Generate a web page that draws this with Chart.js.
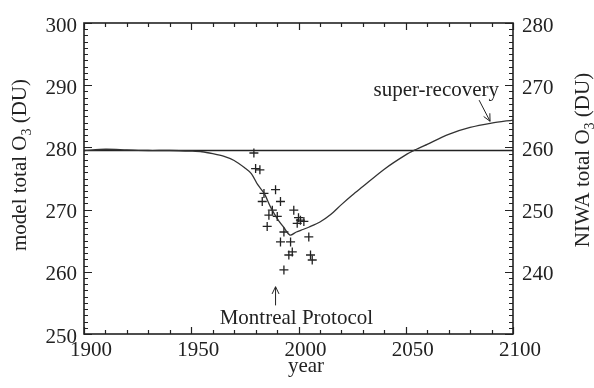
<!DOCTYPE html>
<html>
<head>
<meta charset="utf-8">
<script src="https://cdn.jsdelivr.net/npm/chart.js@4"></script>
<style>
    html, body { margin: 0; padding: 0; background: #fff; }
    #wrap { width: 594px; height: 388px; }
</style>
</head>
<body>
<div id="wrap"><canvas id="ozone-chart"></canvas></div>
<script>
// model total ozone curve (left axis)
const modelYears = [1900, 1910, 1920, 1930, 1940, 1950, 1955, 1960, 1965, 1970, 1975, 1978, 1981, 1984, 1987, 1990, 1993, 1996, 1999, 2002, 2005, 2010, 2015, 2020, 2025, 2030, 2040, 2050, 2055, 2060, 2070, 2080, 2090, 2100];
const modelO3 = [279.5, 279.7, 279.6, 279.5, 279.5, 279.4, 279.3, 279.0, 278.6, 277.9, 276.7, 275.8, 274.0, 272.6, 270.4, 268.6, 267.2, 265.9, 266.4, 266.8, 267.2, 268.0, 269.2, 270.8, 272.3, 273.7, 276.5, 278.8, 279.7, 280.5, 282.1, 283.2, 283.9, 284.4];

// pre-depletion reference level
const refYears = [1900, 2100];
const refO3 = [279.5, 279.5];

// NIWA observations (right axis)
const niwaYears = [1979.2, 1980.0, 1982.0, 1983.1, 1983.9, 1985.4, 1986.2, 1987.8, 1989.3, 1990.1, 1991.6, 1991.6, 1993.2, 1993.2, 1995.5, 1996.3, 1997.1, 1997.8, 1999.4, 2000.0, 2000.9, 2002.5, 2004.8, 2005.6, 2006.4];
const niwaO3 = [259.1, 256.6, 256.4, 251.3, 252.6, 247.3, 249.1, 249.9, 253.2, 248.9, 251.3, 244.8, 246.4, 240.3, 242.7, 244.8, 243.2, 249.9, 247.8, 248.7, 248.3, 248.1, 245.6, 242.7, 241.9];

// axis ticks
const xTicks = [1900, 1950, 2000, 2050, 2100];
const leftTicks = [250, 260, 270, 280, 290, 300];
const rightTicks = [240, 250, 260, 270, 280];

const INK = '#222';
const FONT = '"Liberation Serif", "Times New Roman", serif';

function toPoints(xs, ys) {
    return xs.map((x, i) => ({ x: x, y: ys[i] }));
}

// draw "text" with a subscript part, centered at (cx, cy), optionally rotated
function drawRichText(ctx, parts, cx, cy, angle) {
    ctx.save();
    ctx.translate(cx, cy);
    ctx.rotate(angle);
    ctx.textBaseline = 'alphabetic';
    ctx.textAlign = 'left';
    let total = 0;
    parts.forEach(p => {
        ctx.font = (p.sub ? '14px ' : '21px ') + FONT;
        p.w = ctx.measureText(p.t).width;
        total += p.w;
    });
    let xPos = -total / 2;
    parts.forEach(p => {
        ctx.font = (p.sub ? '14px ' : '21px ') + FONT;
        ctx.fillText(p.t, xPos, p.sub ? 5 : 0);
        xPos += p.w;
    });
    ctx.restore();
}

function arrowHead(ctx, x0, y0, x1, y1, size) {
    const ang = Math.atan2(y1 - y0, x1 - x0);
    ctx.beginPath();
    ctx.moveTo(x1 - size * Math.cos(ang - 0.45), y1 - size * Math.sin(ang - 0.45));
    ctx.lineTo(x1, y1);
    ctx.lineTo(x1 - size * Math.cos(ang + 0.45), y1 - size * Math.sin(ang + 0.45));
    ctx.stroke();
}

// frame, inward ticks, axis titles and annotations
const framePlugin = {
    id: 'frame',
    afterDraw(chart) {
        const { ctx, chartArea: a } = chart;
        const x = chart.scales.x;
        const y = chart.scales.y;
        const y2 = chart.scales.y2;

        ctx.save();
        ctx.strokeStyle = INK;
        ctx.fillStyle = INK;
        ctx.lineWidth = 1.2;

        // minor/major ticks on all four sides
        ctx.beginPath();
        for (let v = 1900; v <= 2100; v += 10) {
            const px = Math.round(x.getPixelForValue(v)) + 0.5;
            const len = v % 50 === 0 ? 7 : 4;
            ctx.moveTo(px, a.bottom); ctx.lineTo(px, a.bottom - len);
            ctx.moveTo(px, a.top); ctx.lineTo(px, a.top + len);
        }
        for (let v = 250; v <= 300; v++) {
            const py = Math.round(y.getPixelForValue(v)) + 0.5;
            ctx.moveTo(a.left, py); ctx.lineTo(a.left + (v % 10 === 0 ? 8 : 4), py);
        }
        for (let v = 230; v <= 280; v++) {
            const py = Math.round(y2.getPixelForValue(v)) + 0.5;
            ctx.moveTo(a.right, py); ctx.lineTo(a.right - (v % 10 === 0 ? 8 : 4), py);
        }
        ctx.stroke();

        // box
        ctx.lineWidth = 1.6;
        ctx.strokeRect(a.left, a.top, a.right - a.left, a.bottom - a.top);

        // axis titles
        drawRichText(ctx, [{ t: 'model total O' }, { t: '3', sub: true }, { t: ' (DU)' }], 26, 165, -Math.PI / 2);
        drawRichText(ctx, [{ t: 'NIWA total O' }, { t: '3', sub: true }, { t: ' (DU)' }], 589, 160, -Math.PI / 2);
        drawRichText(ctx, [{ t: 'year' }], 306, 372, 0);

        // Montreal Protocol arrow and label
        ctx.lineWidth = 1;
        const mx = x.getPixelForValue(1989.3);
        const mTop = y.getPixelForValue(257.6);
        const mBot = y.getPixelForValue(254.6);
        ctx.beginPath();
        ctx.moveTo(mx, mBot); ctx.lineTo(mx, mTop);
        ctx.stroke();
        arrowHead(ctx, mx, mBot, mx, mTop, 8);
        ctx.font = '21px ' + FONT;
        ctx.textAlign = 'center';
        ctx.textBaseline = 'alphabetic';
        ctx.fillText('Montreal Protocol', x.getPixelForValue(1999), y.getPixelForValue(251.6));

        // super-recovery label and arrow
        ctx.textAlign = 'right';
        ctx.textBaseline = 'middle';
        ctx.fillText('super-recovery', x.getPixelForValue(2093.5), y.getPixelForValue(289.2));
        const sx0 = x.getPixelForValue(2084.2), sy0 = y.getPixelForValue(287.6);
        const sx1 = x.getPixelForValue(2089.3), sy1 = y.getPixelForValue(284.2);
        ctx.beginPath();
        ctx.moveTo(sx0, sy0); ctx.lineTo(sx1, sy1);
        ctx.stroke();
        arrowHead(ctx, sx0, sy0, sx1, sy1, 8);

        ctx.restore();
    }
};

const tickFont = { family: FONT, size: 21 };
const plainLabel = value => String(value);

new Chart(document.getElementById('ozone-chart'), {
    type: 'scatter',
    data: {
        datasets: [
            {
                label: 'model',
                data: toPoints(modelYears, modelO3),
                showLine: true,
                borderColor: '#333',
                borderWidth: 1.3,
                pointRadius: 0,
                tension: 0.3,
                yAxisID: 'y'
            },
            {
                label: 'reference',
                data: toPoints(refYears, refO3),
                showLine: true,
                borderColor: INK,
                borderWidth: 1.4,
                pointRadius: 0,
                yAxisID: 'y'
            },
            {
                label: 'NIWA',
                data: toPoints(niwaYears, niwaO3),
                pointStyle: 'cross',
                pointRadius: 4.5,
                borderColor: INK,
                borderWidth: 1.3,
                yAxisID: 'y2'
            }
        ]
    },
    options: {
        responsive: true,
        maintainAspectRatio: false,
        animation: false,
        layout: { padding: { top: 23, left: 0, right: 0, bottom: 0 } },
        plugins: {
            legend: { display: false },
            tooltip: { enabled: false }
        },
        scales: {
            x: {
                type: 'linear',
                min: 1900,
                max: 2100,
                afterBuildTicks: scale => { scale.ticks = xTicks.map(v => ({ value: v })); },
                afterFit: scale => { scale.height = 54; },
                grid: { display: false, drawTicks: false },
                border: { display: false },
                ticks: { color: INK, font: tickFont, padding: 4, labelOffset: 7, autoSkip: false, maxRotation: 0, callback: plainLabel }
            },
            y: {
                position: 'left',
                min: 250,
                max: 300,
                afterBuildTicks: scale => { scale.ticks = leftTicks.map(v => ({ value: v })); },
                afterFit: scale => { scale.width = 84; },
                grid: { display: false, drawTicks: false },
                border: { display: false },
                ticks: { color: INK, font: tickFont, padding: 7, labelOffset: 3, callback: plainLabel }
            },
            y2: {
                position: 'right',
                min: 230,
                max: 280,
                afterBuildTicks: scale => { scale.ticks = rightTicks.map(v => ({ value: v })); },
                afterFit: scale => { scale.width = 81; },
                grid: { display: false, drawTicks: false },
                border: { display: false },
                ticks: { color: INK, font: tickFont, padding: 9, labelOffset: 3, callback: plainLabel }
            }
        }
    },
    plugins: [framePlugin]
});
</script>
</body>
</html>
